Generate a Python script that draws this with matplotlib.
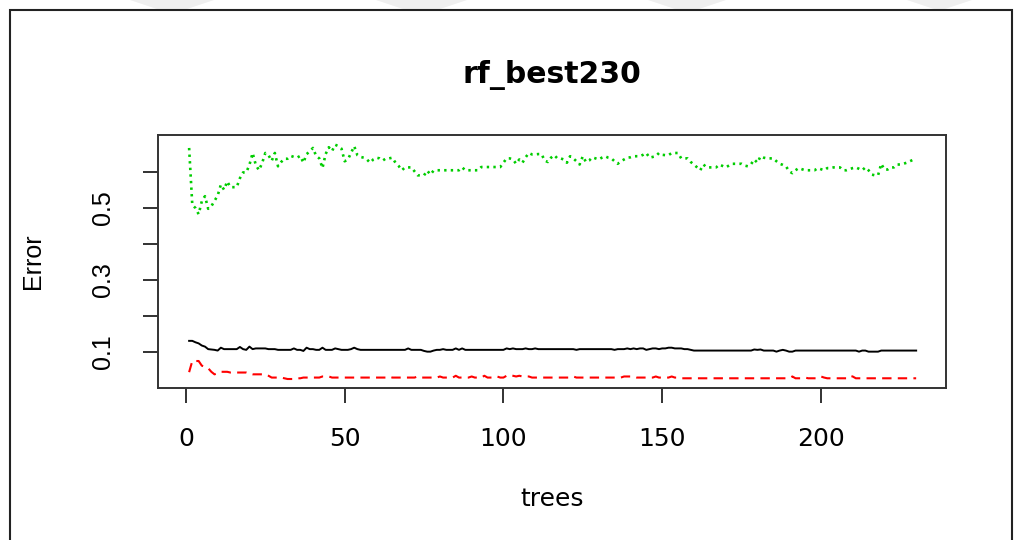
import matplotlib
matplotlib.use("Agg")
import matplotlib.pyplot as plt
from matplotlib.patches import Rectangle, Polygon

# error rates per tree (randomForest err.rate)
oob_err = [
    0.131, 0.131, 0.127, 0.124, 0.118, 0.115, 0.108, 0.107, 0.106, 0.104,
    0.112, 0.108, 0.108, 0.108, 0.108, 0.108, 0.114, 0.108, 0.106, 0.115,
    0.108, 0.110, 0.110, 0.110, 0.110, 0.108, 0.108, 0.108, 0.106, 0.106,
    0.106, 0.106, 0.106, 0.110, 0.106, 0.106, 0.103, 0.112, 0.108, 0.108,
    0.106, 0.106, 0.112, 0.106, 0.106, 0.106, 0.110, 0.108, 0.106, 0.106,
    0.106, 0.108, 0.112, 0.108, 0.106, 0.106, 0.106, 0.106, 0.106, 0.106,
    0.106, 0.106, 0.106, 0.106, 0.106, 0.106, 0.106, 0.106, 0.106, 0.110,
    0.106, 0.106, 0.106, 0.106, 0.103, 0.101, 0.101, 0.104, 0.106, 0.106,
    0.108, 0.106, 0.106, 0.106, 0.110, 0.106, 0.110, 0.106, 0.106, 0.106,
    0.106, 0.106, 0.106, 0.106, 0.106, 0.106, 0.106, 0.106, 0.106, 0.106,
    0.110, 0.108, 0.110, 0.108, 0.108, 0.108, 0.110, 0.108, 0.108, 0.110,
    0.108, 0.108, 0.108, 0.108, 0.108, 0.108, 0.108, 0.108, 0.108, 0.108,
    0.108, 0.108, 0.106, 0.108, 0.108, 0.108, 0.108, 0.108, 0.108, 0.108,
    0.108, 0.108, 0.108, 0.108, 0.106, 0.108, 0.108, 0.108, 0.110, 0.108,
    0.110, 0.108, 0.110, 0.110, 0.106, 0.108, 0.110, 0.110, 0.108, 0.110,
    0.110, 0.112, 0.112, 0.110, 0.110, 0.110, 0.108, 0.108, 0.106, 0.104,
    0.104, 0.104, 0.104, 0.104, 0.104, 0.104, 0.104, 0.104, 0.104, 0.104,
    0.104, 0.104, 0.104, 0.104, 0.104, 0.104, 0.104, 0.104, 0.107, 0.106,
    0.107, 0.104, 0.104, 0.104, 0.104, 0.101, 0.104, 0.106, 0.104, 0.101,
    0.101, 0.104, 0.104, 0.104, 0.104, 0.104, 0.104, 0.104, 0.104, 0.104,
    0.104, 0.104, 0.104, 0.104, 0.104, 0.104, 0.104, 0.104, 0.104, 0.104,
    0.104, 0.101, 0.104, 0.104, 0.101, 0.101, 0.101, 0.101, 0.104, 0.104,
    0.104, 0.104, 0.104, 0.104, 0.104, 0.104, 0.104, 0.104, 0.104, 0.104,
]

class1_err = [
    0.044, 0.075, 0.075, 0.075, 0.062, 0.059, 0.055, 0.045, 0.038, 0.041,
    0.045, 0.045, 0.045, 0.043, 0.043, 0.043, 0.043, 0.043, 0.043, 0.040,
    0.038, 0.038, 0.038, 0.038, 0.038, 0.034, 0.029, 0.029, 0.029, 0.029,
    0.027, 0.025, 0.025, 0.025, 0.027, 0.027, 0.029, 0.029, 0.029, 0.029,
    0.029, 0.029, 0.032, 0.032, 0.032, 0.029, 0.029, 0.029, 0.029, 0.029,
    0.029, 0.029, 0.029, 0.029, 0.029, 0.029, 0.029, 0.029, 0.029, 0.029,
    0.029, 0.029, 0.029, 0.032, 0.029, 0.029, 0.029, 0.029, 0.029, 0.029,
    0.029, 0.029, 0.032, 0.029, 0.029, 0.029, 0.029, 0.029, 0.029, 0.032,
    0.029, 0.029, 0.029, 0.029, 0.034, 0.029, 0.029, 0.029, 0.029, 0.032,
    0.029, 0.029, 0.029, 0.034, 0.029, 0.029, 0.029, 0.032, 0.029, 0.029,
    0.034, 0.036, 0.034, 0.032, 0.034, 0.032, 0.032, 0.032, 0.029, 0.029,
    0.029, 0.029, 0.029, 0.029, 0.029, 0.029, 0.029, 0.029, 0.029, 0.029,
    0.029, 0.032, 0.029, 0.029, 0.029, 0.029, 0.029, 0.029, 0.029, 0.029,
    0.029, 0.029, 0.029, 0.029, 0.029, 0.029, 0.029, 0.032, 0.032, 0.032,
    0.032, 0.029, 0.029, 0.029, 0.029, 0.029, 0.029, 0.032, 0.029, 0.029,
    0.029, 0.029, 0.032, 0.029, 0.029, 0.027, 0.027, 0.027, 0.027, 0.027,
    0.027, 0.027, 0.027, 0.027, 0.027, 0.027, 0.027, 0.027, 0.027, 0.027,
    0.027, 0.027, 0.027, 0.027, 0.027, 0.027, 0.027, 0.027, 0.027, 0.027,
    0.027, 0.027, 0.027, 0.027, 0.027, 0.027, 0.027, 0.027, 0.027, 0.027,
    0.032, 0.027, 0.027, 0.027, 0.029, 0.027, 0.027, 0.027, 0.027, 0.032,
    0.029, 0.027, 0.027, 0.027, 0.027, 0.027, 0.027, 0.027, 0.034, 0.032,
    0.027, 0.027, 0.027, 0.027, 0.027, 0.027, 0.027, 0.027, 0.027, 0.027,
    0.027, 0.027, 0.027, 0.027, 0.027, 0.027, 0.027, 0.027, 0.027, 0.027,
]

class2_err = [
    0.667, 0.509, 0.500, 0.483, 0.519, 0.533, 0.498, 0.505, 0.520, 0.535,
    0.565, 0.551, 0.574, 0.558, 0.558, 0.558, 0.583, 0.599, 0.599, 0.620,
    0.653, 0.620, 0.605, 0.625, 0.653, 0.647, 0.631, 0.653, 0.616, 0.628,
    0.637, 0.637, 0.645, 0.642, 0.640, 0.645, 0.626, 0.650, 0.657, 0.667,
    0.645, 0.638, 0.611, 0.650, 0.669, 0.658, 0.676, 0.672, 0.665, 0.630,
    0.635, 0.653, 0.672, 0.647, 0.642, 0.640, 0.635, 0.626, 0.635, 0.640,
    0.638, 0.632, 0.638, 0.638, 0.640, 0.626, 0.617, 0.605, 0.613, 0.613,
    0.613, 0.602, 0.591, 0.591, 0.591, 0.604, 0.593, 0.604, 0.605, 0.605,
    0.605, 0.605, 0.605, 0.605, 0.605, 0.605, 0.613, 0.605, 0.605, 0.605,
    0.605, 0.605, 0.614, 0.614, 0.614, 0.614, 0.614, 0.614, 0.614, 0.626,
    0.638, 0.638, 0.635, 0.623, 0.635, 0.626, 0.641, 0.653, 0.649, 0.649,
    0.650, 0.650, 0.632, 0.628, 0.640, 0.647, 0.638, 0.638, 0.635, 0.626,
    0.644, 0.638, 0.630, 0.621, 0.644, 0.628, 0.632, 0.641, 0.638, 0.635,
    0.640, 0.644, 0.640, 0.638, 0.630, 0.623, 0.630, 0.635, 0.640, 0.641,
    0.644, 0.644, 0.644, 0.648, 0.653, 0.640, 0.642, 0.644, 0.653, 0.648,
    0.647, 0.647, 0.653, 0.653, 0.653, 0.638, 0.638, 0.638, 0.628, 0.621,
    0.613, 0.605, 0.621, 0.613, 0.613, 0.613, 0.613, 0.621, 0.617, 0.613,
    0.618, 0.623, 0.623, 0.623, 0.623, 0.618, 0.616, 0.622, 0.635, 0.626,
    0.644, 0.640, 0.638, 0.638, 0.638, 0.630, 0.623, 0.620, 0.616, 0.602,
    0.597, 0.605, 0.611, 0.608, 0.605, 0.605, 0.605, 0.605, 0.611, 0.608,
    0.605, 0.611, 0.611, 0.613, 0.613, 0.613, 0.605, 0.605, 0.608, 0.611,
    0.613, 0.609, 0.605, 0.613, 0.605, 0.593, 0.591, 0.591, 0.623, 0.607,
    0.607, 0.613, 0.613, 0.621, 0.621, 0.623, 0.626, 0.630, 0.634, 0.638,
]

trees = list(range(1, len(oob_err) + 1))
x_ticks = [0, 50, 100, 150, 200]
y_ticks = [0.1, 0.2, 0.3, 0.4, 0.5, 0.6]
y_tick_labels = ["0.1", "", "0.3", "", "0.5", ""]

W, H = 1016, 540
fig = plt.figure(figsize=(W / 100, H / 100), dpi=100)
fig.patch.set_facecolor("white")

# faint watermark wedges along the top edge of the screenshot
for x0, x1 in [(130, 214), (376, 467), (648, 726), (907, 972)]:
    pts = [(x0 / W, 1.0), (x1 / W, 1.0),
           ((x1 - 30) / W, 1 - 10 / H), ((x0 + 30) / W, 1 - 10 / H)]
    fig.add_artist(Polygon(pts, closed=True, transform=fig.transFigure,
                           fc="#efefef", ec="none"))

# outer frame of the screenshot
fig.add_artist(Rectangle((10 / W, -0.1), (1012 - 10) / W, 1.1 - 10 / H,
                         transform=fig.transFigure, fill=False,
                         lw=1.5, ec="#222222"))

ax = fig.add_axes([158 / W, 152 / H, 788 / W, 253 / H])

ax.plot(trees, oob_err, color="black", lw=1.4, ls="-")
ax.plot(trees, class1_err, color="#FF0000", lw=1.5, ls=(0, (4.5, 3)))
ax.plot(trees, class2_err, color="#00CD00", lw=1.9, ls=(0, (0.9, 1.6)))

ax.set_xlim(-8.8, 239.4)
ax.set_ylim(0.0, 0.703)

for s in ax.spines.values():
    s.set_linewidth(1.4)
    s.set_color("#333333")

ax.set_xticks(x_ticks)
ax.set_xticklabels([str(v) for v in x_ticks], fontsize=18, family="DejaVu Sans")
ax.set_yticks(y_ticks)
ax.set_yticklabels(y_tick_labels, fontsize=18, family="Liberation Sans",
                   rotation=90, va="center")
ax.tick_params(axis="both", direction="out", length=11, width=1.3,
               color="#222222")
ax.tick_params(axis="x", pad=17)
ax.tick_params(axis="y", pad=20)

ax.set_xlabel("trees", fontsize=18, family="DejaVu Sans")
ax.xaxis.set_label_coords(0.5, -0.437)
ax.xaxis.label.set_va("center")
ax.set_ylabel("Error", fontsize=18, family="Liberation Sans")
ax.yaxis.set_label_coords(-0.159, 0.5)
ax.yaxis.label.set_va("center")

ax.set_title("rf_best230", fontsize=21.5, fontweight="bold",
             family="DejaVu Sans", y=1.204, va="baseline", pad=0)

fig.savefig("out.png", dpi=100)
